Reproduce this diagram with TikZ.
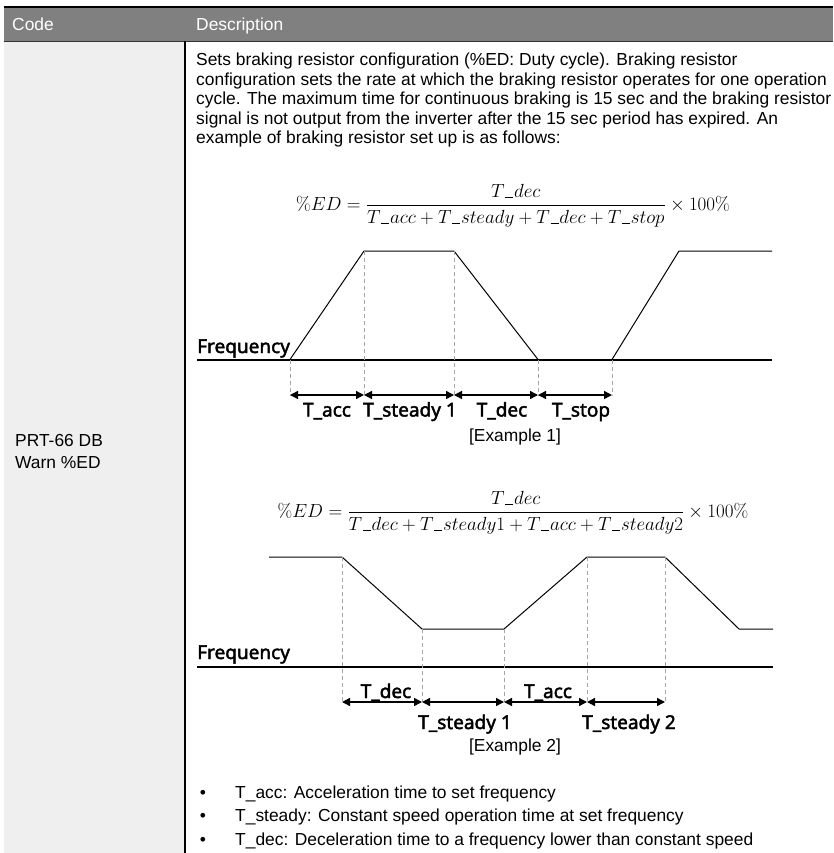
\RequirePackage{fix-cm}
\documentclass[tikz,border=0pt]{standalone}
\usepackage[no-math]{fontspec}
\setmainfont{Liberation Sans}
\newfontfamily\lblfont{Noto Sans}[AutoFakeBold=2.2]
\usetikzlibrary{arrows.meta}
\definecolor{hdrgray}{HTML}{808080}
\definecolor{leftgray}{HTML}{EFEFEF}
\definecolor{guidegray}{HTML}{A6A6A6}
\newcommand{\us}{\kern0.04em\rule[-0.05em]{0.42em}{0.07em}\kern0.04em}
\tikzset{
  txt/.style={anchor=base west, inner sep=0pt, font=\fontsize{17.4}{20}\selectfont},
  ctxt/.style={anchor=base, inner sep=0pt, font=\fontsize{17.4}{20}\selectfont},
  hdr/.style={txt, text=white},
  lbl/.style={anchor=base, inner sep=0pt, font=\lblfont\bfseries\fontsize{19}{22}\selectfont},
  lblw/.style={lbl, anchor=base west},
  formula/.style={anchor=base, inner sep=0pt, font=\fontsize{19}{22}\selectfont},
  wave/.style={line width=1pt, line join=miter},
  axisline/.style={line width=2pt},
  guide/.style={draw=guidegray, dash pattern=on 4pt off 3pt, line width=0.9pt},
  dim/.style={line width=1.4pt, {Triangle[length=8pt,width=8pt]}-{Triangle[length=8pt,width=8pt]}},
}
\begin{document}
\begin{tikzpicture}[x=1pt,y=-1pt]
\useasboundingbox (0,0) rectangle (833,853);
% table
\fill[leftgray] (4,41.5) rectangle (185,853);
\fill[hdrgray] (4,7) rectangle (833,41.5);
\draw[line width=2.6pt] (4,7) -- (833,7);
\draw[line width=1pt, black!80] (4,41.5) -- (833,41.5);
\draw[line width=1.2pt] (185,41.5) -- (185,853);
\node[hdr] (hcode) at (12,31) {Code};
\node[hdr] (hdesc) at (196,31) {Description};
\node[txt] (code1) at (15,446) {PRT-66 DB};
\node[txt] (code2) at (15,468) {Warn \%ED};
% body text
\node[txt] (l1) at (196,66) {Sets braking resistor configuration (\%ED: Duty cycle). Braking resistor};
\node[txt] (l2) at (196,85.5) {configuration sets the rate at which the braking resistor operates for one operation};
\node[txt] (l3) at (196,105) {cycle. The maximum time for continuous braking is 15 sec and the braking resistor};
\node[txt] (l4) at (196,124.5) {signal is not output from the inverter after the 15 sec period has expired. An};
\node[txt] (l5) at (196,144) {example of braking resistor set up is as follows:};
% formula 1
\node[formula] (f1) at (513,210) {$\displaystyle \%ED=\frac{T\us dec}{T\us acc+T\us steady+T\us dec+T\us stop}\times 100\%$};
% diagram 1
\draw[axisline] (197,359.5) -- (772,359.5);
\coordinate (p1) at (290,359.5);
\coordinate (p2) at (364,251);
\coordinate (p3) at (454,251);
\coordinate (p4) at (538,359.5);
\coordinate (p5) at (612,359.5);
\coordinate (p6) at (679,251);
\coordinate (p7) at (772,251);
\draw[wave] (p1) -- (p2) -- (p3) -- (p4);
\draw[wave] (p5) -- (p6) -- (p7);
\coordinate (q1) at (290,395);
\coordinate (q2) at (364,395);
\coordinate (q3) at (454,395);
\coordinate (q4) at (538,395);
\coordinate (q5) at (612,395);
\draw[guide] (p1) -- (q1);
\draw[guide] (p2) -- (q2);
\draw[guide] (p3) -- (q3);
\draw[guide] (p4) -- (q4);
\draw[guide] (p5) -- (q5);
\draw[dim] (q1) -- (q2);
\draw[dim] (q2) -- (q3);
\draw[dim] (q3) -- (q4);
\draw[dim] (q4) -- (q5);
\node[lblw] (freq1) at (197,353) {Frequency};
\node[lbl] (tacc1) at (327,416.5) {T\_acc};
\node[lbl] (tst1) at (410,416.5) {T\_steady 1};
\node[lbl] (tdec1) at (502,416.5) {T\_dec};
\node[lbl] (tstop1) at (581,416.5) {T\_stop};
\node[ctxt] (ex1) at (515,441) {[Example 1]};
% formula 2
\node[formula] (f2) at (513,517) {$\displaystyle \%ED=\frac{T\us dec}{T\us dec+T\us steady1+T\us acc+T\us steady2}\times 100\%$};
% diagram 2
\draw[axisline] (197,667) -- (773,667);
\coordinate (r0) at (269,557);
\coordinate (r1) at (342,557);
\coordinate (r2) at (422,629);
\coordinate (r3) at (504,629);
\coordinate (r4) at (587,557);
\coordinate (r5) at (665,557);
\coordinate (r6) at (739,629);
\coordinate (r7) at (773,629);
\draw[wave] (r0) -- (r1) -- (r2) -- (r3) -- (r4) -- (r5) -- (r6) -- (r7);
\coordinate (s1) at (342,702);
\coordinate (s2) at (422,702);
\coordinate (s3) at (504,702);
\coordinate (s4) at (587,702);
\coordinate (s5) at (665,702);
\draw[guide] (r1) -- (s1);
\draw[guide] (r2) -- (s2);
\draw[guide] (r3) -- (s3);
\draw[guide] (r4) -- (s4);
\draw[guide] (r5) -- (s5);
\draw[dim] (s1) -- (s2);
\draw[dim] (s2) -- (s3);
\draw[dim] (s3) -- (s4);
\draw[dim] (s4) -- (s5);
\node[lblw] (freq2) at (197,659) {Frequency};
\node[lbl] (tdec2) at (386,698) {T\_dec};
\node[lbl] (tacc2) at (548,698) {T\_acc};
\node[lbl] (tst21) at (465,729) {T\_steady 1};
\node[lbl] (tst22) at (629,729) {T\_steady 2};
\node[ctxt] (ex2) at (515,751) {[Example 2]};
% bullets
\node[ctxt] (b1) at (203,798) {\textbullet};
\node[ctxt] (b2) at (203,821) {\textbullet};
\node[ctxt] (b3) at (203,845) {\textbullet};
\node[txt] (bt1) at (235,798) {T\_acc: Acceleration time to set frequency};
\node[txt] (bt2) at (235,821) {T\_steady: Constant speed operation time at set frequency};
\node[txt] (bt3) at (235,845) {T\_dec: Deceleration time to a frequency lower than constant speed};
\end{tikzpicture}
\end{document}
